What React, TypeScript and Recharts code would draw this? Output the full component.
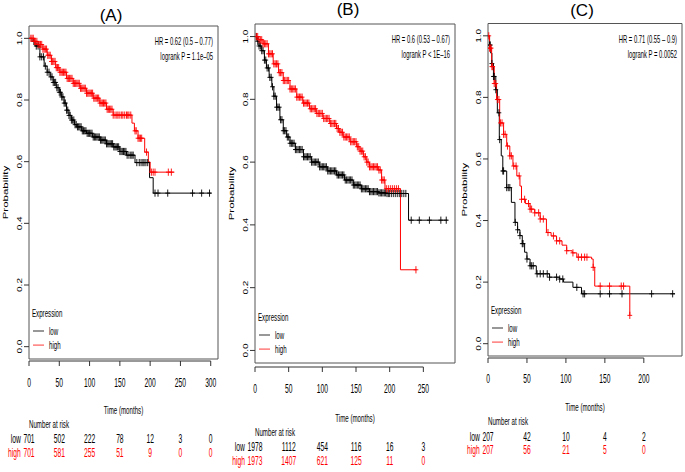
import React from 'react';
import { ComposedChart, Line, Scatter, XAxis, YAxis, ReferenceArea, ReferenceLine } from 'recharts';

const W = 685;
const H = 472;
const SX = 0.56; // the figure is squeezed horizontally
const FONT = '"Liberation Sans", Arial, sans-serif';
const RED = '#ff0000';
const yTicks = [0, 0.2, 0.4, 0.6, 0.8, 1.0];

// ---- (A) ----
const aTicks = [0, 50, 100, 150, 200, 250, 300];
const aRiskLow = [701, 502, 222, 78, 12, 3, 0];
const aRiskHigh = [701, 581, 255, 51, 9, 0, 0];
const aStats = ['HR = 0.62 (0.5 – 0.77)', 'logrank P = 1.1e–05'];
const aLow: [number, number][] = [
  [0, 1.0], [5, 0.99], [10, 0.975], [18, 0.94], [25, 0.91], [30, 0.89], [35, 0.875], [40, 0.857],
  [45, 0.84], [50, 0.825], [54, 0.81], [58, 0.79], [62, 0.767], [66, 0.75], [70, 0.735], [75, 0.72],
  [79, 0.713], [87, 0.7], [95, 0.692], [105, 0.68], [117, 0.67], [128, 0.658], [139, 0.648],
  [150, 0.633], [161, 0.621], [175, 0.597], [199, 0.548], [205, 0.498], [301, 0.498],
];
const aHigh: [number, number][] = [
  [0, 1.0], [8, 0.99], [15, 0.98], [23, 0.965], [30, 0.945], [37, 0.925], [44, 0.905], [51, 0.89],
  [62, 0.87], [73, 0.854], [84, 0.838], [95, 0.822], [106, 0.806], [117, 0.79], [128, 0.77],
  [139, 0.751], [170, 0.725], [174, 0.7], [180, 0.676], [191, 0.631], [197, 0.599], [200, 0.566],
  [240, 0.566],
];
const aLowCensor = [8, 12, 15, 18, 21, 24, 27, 30, 33, 36, 38, 40, 42, 44, 46, 48, 50, 52, 54, 56, 58,
  60, 62, 64, 66, 68, 70, 72, 74, 76, 78, 80, 82, 84, 86, 88, 90, 92, 94, 96, 98, 100, 102, 104, 106,
  108, 110, 112, 114, 116, 118, 120, 122, 124, 126, 128, 130, 132, 134, 136, 138, 140, 142, 144, 146,
  148, 150, 152, 154, 156, 158, 160, 162, 165, 168, 170, 172, 178, 182, 185, 188, 190, 193, 196, 208,
  213, 229, 270, 285, 298];
const aHighCensor = [3, 5, 7, 9, 11, 13, 15, 17, 19, 21, 23, 25, 27, 29, 31, 33, 35, 37, 39, 41, 43, 45,
  47, 49, 51, 53, 55, 57, 59, 61, 63, 65, 67, 69, 71, 73, 75, 77, 79, 81, 83, 85, 87, 89, 91, 93, 95,
  97, 99, 101, 103, 105, 107, 109, 111, 113, 115, 117, 119, 121, 123, 125, 127, 129, 131, 133, 135,
  137, 139, 142, 145, 147, 150, 153, 155, 158, 161, 163, 165, 168, 175, 177, 180, 182, 184, 186, 194,
  202, 205, 208, 230, 235];

// ---- (B) ----
const bTicks = [0, 50, 100, 150, 200, 250];
const bRiskLow = [1978, 1112, 454, 116, 16, 3];
const bRiskHigh = [1973, 1407, 621, 125, 11, 0];
const bStats = ['HR = 0.6 (0.53 – 0.67)', 'logrank P < 1E–16'];
const bLow: [number, number][] = [
  [0, 1.0], [3, 0.985], [6, 0.97], [10, 0.955], [14, 0.925], [17, 0.9], [21, 0.87], [25, 0.84],
  [28, 0.81], [32, 0.775], [37, 0.735], [42, 0.7], [47, 0.68], [52, 0.66], [60, 0.64], [72, 0.617],
  [84, 0.6], [96, 0.585], [108, 0.572], [121, 0.559], [133, 0.543], [146, 0.527], [158, 0.515],
  [170, 0.506], [183, 0.502], [195, 0.5], [228, 0.415], [286, 0.415],
];
const bHigh: [number, number][] = [
  [0, 1.0], [5, 0.99], [12, 0.977], [20, 0.945], [27, 0.913], [35, 0.885], [42, 0.86], [52, 0.833],
  [62, 0.807], [71, 0.788], [81, 0.77], [91, 0.755], [101, 0.739], [111, 0.723], [121, 0.707],
  [126, 0.695], [131, 0.68], [141, 0.665], [151, 0.649], [156, 0.635], [161, 0.617], [166, 0.6],
  [170, 0.585], [183, 0.575], [188, 0.543], [193, 0.515], [216, 0.257], [240, 0.257],
];
const bLowCensor = [2, 4, 6, 8, 10, 12, 14, 16, 18, 20, 22, 24, 26, 28, 30, 32, 34, 36, 38, 40, 42, 44,
  46, 48, 50, 52, 54, 56, 58, 60, 62, 64, 66, 68, 70, 72, 74, 76, 78, 80, 82, 84, 86, 88, 90, 92, 94,
  96, 98, 100, 102, 104, 106, 108, 110, 112, 114, 116, 118, 120, 122, 124, 126, 128, 130, 132, 134,
  136, 138, 140, 142, 144, 146, 148, 150, 152, 154, 156, 158, 160, 162, 164, 166, 168, 170, 172, 174,
  176, 178, 180, 182, 184, 186, 188, 190, 192, 194, 196, 198, 200, 203, 206, 209, 212, 215, 218, 221,
  224, 232, 244, 259, 276, 284];
const bHighCensor = [2, 4, 6, 8, 10, 12, 14, 16, 18, 20, 22, 24, 26, 28, 30, 32, 34, 36, 38, 40, 42, 44,
  46, 48, 50, 52, 54, 56, 58, 60, 62, 64, 66, 68, 70, 72, 74, 76, 78, 80, 82, 84, 86, 88, 90, 92, 94,
  96, 98, 100, 102, 104, 106, 108, 110, 112, 114, 116, 118, 120, 122, 124, 126, 128, 130, 132, 134,
  136, 138, 140, 142, 144, 146, 148, 150, 152, 154, 156, 158, 160, 162, 164, 166, 168, 170, 172, 174,
  176, 178, 180, 182, 184, 186, 188, 190, 192, 195, 198, 201, 204, 207, 210, 213, 239];

// ---- (C) ----
const cTicks = [0, 50, 100, 150, 200];
const cRiskLow = [207, 42, 10, 4, 2];
const cRiskHigh = [207, 56, 21, 5, 0];
const cStats = ['HR = 0.71 (0.55 – 0.9)', 'logrank P = 0.0052'];
const cLow: [number, number][] = [
  [0, 1.0], [2, 0.97], [3.5, 0.944], [5, 0.91], [7, 0.868], [10, 0.825], [12, 0.75], [14.5, 0.663],
  [17, 0.61], [19, 0.561], [24, 0.507], [30, 0.459], [34.6, 0.394], [38, 0.37], [41, 0.351],
  [44, 0.325], [47, 0.297], [50, 0.275], [54, 0.253], [62, 0.227], [79, 0.216], [92, 0.21],
  [97, 0.2], [109, 0.183], [120, 0.162], [240, 0.162],
];
const cHigh: [number, number][] = [
  [0, 1.0], [2, 0.96], [4.7, 0.9], [8, 0.845], [11, 0.793], [15, 0.717], [20, 0.68], [24, 0.642],
  [28, 0.61], [32, 0.577], [37, 0.545], [41, 0.512], [43, 0.469], [48, 0.455], [54, 0.437],
  [60, 0.425], [67, 0.405], [75, 0.361], [81, 0.35], [88, 0.334], [95, 0.32], [101, 0.302],
  [108, 0.295], [114, 0.281], [133, 0.275], [135, 0.248], [137, 0.187], [182, 0.092],
];
const cLowCensor = [2, 3, 5, 7, 8, 10, 14, 15, 19, 20, 24, 26, 28, 35, 38, 41, 44, 45, 50, 54, 56, 58,
  63, 67, 71, 76, 79, 88, 92, 96, 114, 122, 124, 144, 156, 172, 210, 237];
const cHighCensor = [1, 2, 3, 4, 5, 6, 8, 10, 12, 14, 16, 18, 20, 22, 25, 28, 30, 33, 36, 40, 43, 47,
  52, 54, 56, 60, 65, 67, 71, 77, 84, 88, 92, 101, 109, 116, 120, 124, 127, 135, 144, 156, 171, 174, 182];

// pixel layout of each panel (box edges, text baselines)
const layoutA = { left: 29, right: 218, top: 26, boxBottom: 359, axisY: 361, xMax: 312, title: '(A)', titleX: 111, titleY: 21, tickY: 387, timeY: 414, narY: 428, lowY: 443, highY: 457 };
const layoutB = { left: 255, right: 455, top: 24, boxBottom: 363, axisY: 367, xMax: 297, title: '(B)', titleX: 348, titleY: 15, tickY: 393, timeY: 422, narY: 436, lowY: 451, highY: 465 };
const layoutC = { left: 488, right: 682, top: 23.5, boxBottom: 356, axisY: 358, xMax: 249, title: '(C)', titleX: 582, titleY: 16, tickY: 383, timeY: 411, narY: 425, lowY: 441, highY: 454 };

type Layout = typeof layoutA;

function survAt(curve: [number, number][], t: number) {
  let s = curve[0][1];
  for (const [ti, si] of curve) {
    if (ti <= t) s = si;
    else break;
  }
  return s;
}

function Sq({ x, y, size = 10, fill = '#000', anchor = 'middle', rot = false, sx = SX, children }: any) {
  return (
    <text
      transform={`translate(${x},${y}) scale(${sx},1)${rot ? ' rotate(-90)' : ''}`}
      textAnchor={anchor}
      fontSize={size}
      fill={fill}
      fontFamily={FONT}
    >
      {children}
    </text>
  );
}

const plus = (color: string) => (props: any) => {
  const { cx, cy } = props;
  if (cx == null || cy == null) return <g />;
  return (
    <path
      d={`M${cx - 2.4},${cy}H${cx + 2.4}M${cx},${cy - 3.6}V${cy + 3.6}`}
      stroke={color}
      strokeWidth={0.9}
      fill="none"
    />
  );
};

interface PanelProps {
  lay: Layout;
  ticks: number[];
  low: [number, number][];
  high: [number, number][];
  lowCensor: number[];
  highCensor: number[];
  riskLow: number[];
  riskHigh: number[];
}

function KMChart({ lay, ticks, low, high, lowCensor, highCensor, riskLow, riskHigh }: PanelProps) {
  const unit = (lay.boxBottom - lay.top) / 1.08;
  const yMin = -0.04 - (lay.axisY - lay.boxBottom) / unit;
  const lowLine = low.map(([t, s]) => ({ t, s }));
  const highLine = high.map(([t, s]) => ({ t, s }));
  const lowMarks = lowCensor.map((t) => ({ t, s: survAt(low, t) }));
  const highMarks = highCensor.map((t) => ({ t, s: survAt(high, t) }));

  const XTick = (props: any) => {
    const { x, payload } = props;
    const i = ticks.indexOf(payload.value);
    // row labels sit just left of the first count
    const gap = String(Math.max(riskLow[0], riskHigh[0])).length * 1.9 + 2.5;
    return (
      <g>
        <Sq x={x} y={lay.tickY} size={12}>{payload.value}</Sq>
        <Sq x={x} y={lay.lowY} size={12}>{riskLow[i]}</Sq>
        <Sq x={x} y={lay.highY} size={12} fill={RED}>{riskHigh[i]}</Sq>
        {i === 0 && (
          <g>
            <Sq x={x - gap} y={lay.lowY} size={12} anchor="end">low</Sq>
            <Sq x={x - gap} y={lay.highY} size={12} anchor="end" fill={RED}>high</Sq>
            <Sq x={x} y={lay.narY} size={11} anchor="start">Number at risk</Sq>
          </g>
        )}
      </g>
    );
  };

  const YTick = (props: any) => {
    const { y, payload } = props;
    return (
      <Sq x={lay.left - 7} y={y} size={10} sx={0.75} rot>
        {Number(payload.value).toFixed(1)}
      </Sq>
    );
  };

  return (
    <div style={{ position: 'absolute', left: 0, top: 0 }}>
      <ComposedChart
        width={W}
        height={H}
        margin={{ top: lay.top, left: lay.left - 20, right: W - lay.right, bottom: H - lay.axisY - 20 }}
      >
        <XAxis
          dataKey="t"
          type="number"
          domain={[0, lay.xMax]}
          ticks={ticks}
          interval={0}
          allowDataOverflow
          axisLine={false}
          tickLine={{ stroke: '#333' }}
          tickSize={5}
          tick={XTick}
          height={20}
        />
        <YAxis
          dataKey="s"
          type="number"
          domain={[yMin, 1.04]}
          ticks={yTicks}
          interval={0}
          allowDataOverflow
          axisLine={false}
          tickLine={{ stroke: '#333' }}
          tickSize={5}
          tick={YTick}
          width={20}
        />
        <ReferenceArea x1={0} x2={lay.xMax} y1={-0.04} y2={1.04} fill="none" stroke="#555" ifOverflow="visible" />
        <ReferenceLine
          segment={[{ x: 0, y: yMin }, { x: ticks[ticks.length - 1], y: yMin }]}
          stroke="#333"
          ifOverflow="visible"
        />
        <Line data={lowLine} dataKey="s" type="stepAfter" stroke="#000" strokeWidth={1} dot={false} isAnimationActive={false} />
        <Line data={highLine} dataKey="s" type="stepAfter" stroke={RED} strokeWidth={1} dot={false} isAnimationActive={false} />
        <Scatter data={lowMarks} dataKey="s" shape={plus('#000')} isAnimationActive={false} />
        <Scatter data={highMarks} dataKey="s" shape={plus(RED)} isAnimationActive={false} />
      </ComposedChart>
    </div>
  );
}

function Annotations({ lay, stats }: { lay: Layout; stats: string[] }) {
  const lowLegY = lay.boxBottom - 28;
  const highLegY = lay.boxBottom - 14;
  return (
    <g>
      <text x={lay.titleX} y={lay.titleY} textAnchor="middle" fontSize={17} fontFamily={FONT}>
        {lay.title}
      </text>
      <Sq x={lay.left - 21} y={(lay.top + lay.boxBottom) / 2} size={11.5} sx={0.7} rot>Probability</Sq>
      <Sq x={lay.right - 5} y={lay.top + 19} size={10.5} anchor="end">{stats[0]}</Sq>
      <Sq x={lay.right - 5} y={lay.top + 34} size={10.5} anchor="end">{stats[1]}</Sq>
      <Sq x={lay.left + 3} y={lay.boxBottom - 42} size={11} anchor="start">Expression</Sq>
      <rect x={lay.left + 4} y={lowLegY - 0.5} width={11} height={1} fill="#333" />
      <Sq x={lay.left + 20} y={lowLegY + 4} size={11} anchor="start">low</Sq>
      <rect x={lay.left + 4} y={highLegY - 0.5} width={11} height={1.2} fill="#ff5a5a" />
      <Sq x={lay.left + 20} y={highLegY + 4} size={11} anchor="start">high</Sq>
      <Sq x={(lay.left + lay.right) / 2} y={lay.timeY} size={11}>Time (months)</Sq>
    </g>
  );
}

export default function App() {
  return (
    <div style={{ position: 'absolute', left: 0, top: 0, width: W, height: H, background: '#fff', overflow: 'hidden' }}>
      <KMChart lay={layoutA} ticks={aTicks} low={aLow} high={aHigh} lowCensor={aLowCensor} highCensor={aHighCensor} riskLow={aRiskLow} riskHigh={aRiskHigh} />
      <KMChart lay={layoutB} ticks={bTicks} low={bLow} high={bHigh} lowCensor={bLowCensor} highCensor={bHighCensor} riskLow={bRiskLow} riskHigh={bRiskHigh} />
      <KMChart lay={layoutC} ticks={cTicks} low={cLow} high={cHigh} lowCensor={cLowCensor} highCensor={cHighCensor} riskLow={cRiskLow} riskHigh={cRiskHigh} />
      <svg width={W} height={H} style={{ position: 'absolute', left: 0, top: 0, pointerEvents: 'none', zIndex: 5 }}>
        <Annotations lay={layoutA} stats={aStats} />
        <Annotations lay={layoutB} stats={bStats} />
        <Annotations lay={layoutC} stats={cStats} />
      </svg>
    </div>
  );
}
